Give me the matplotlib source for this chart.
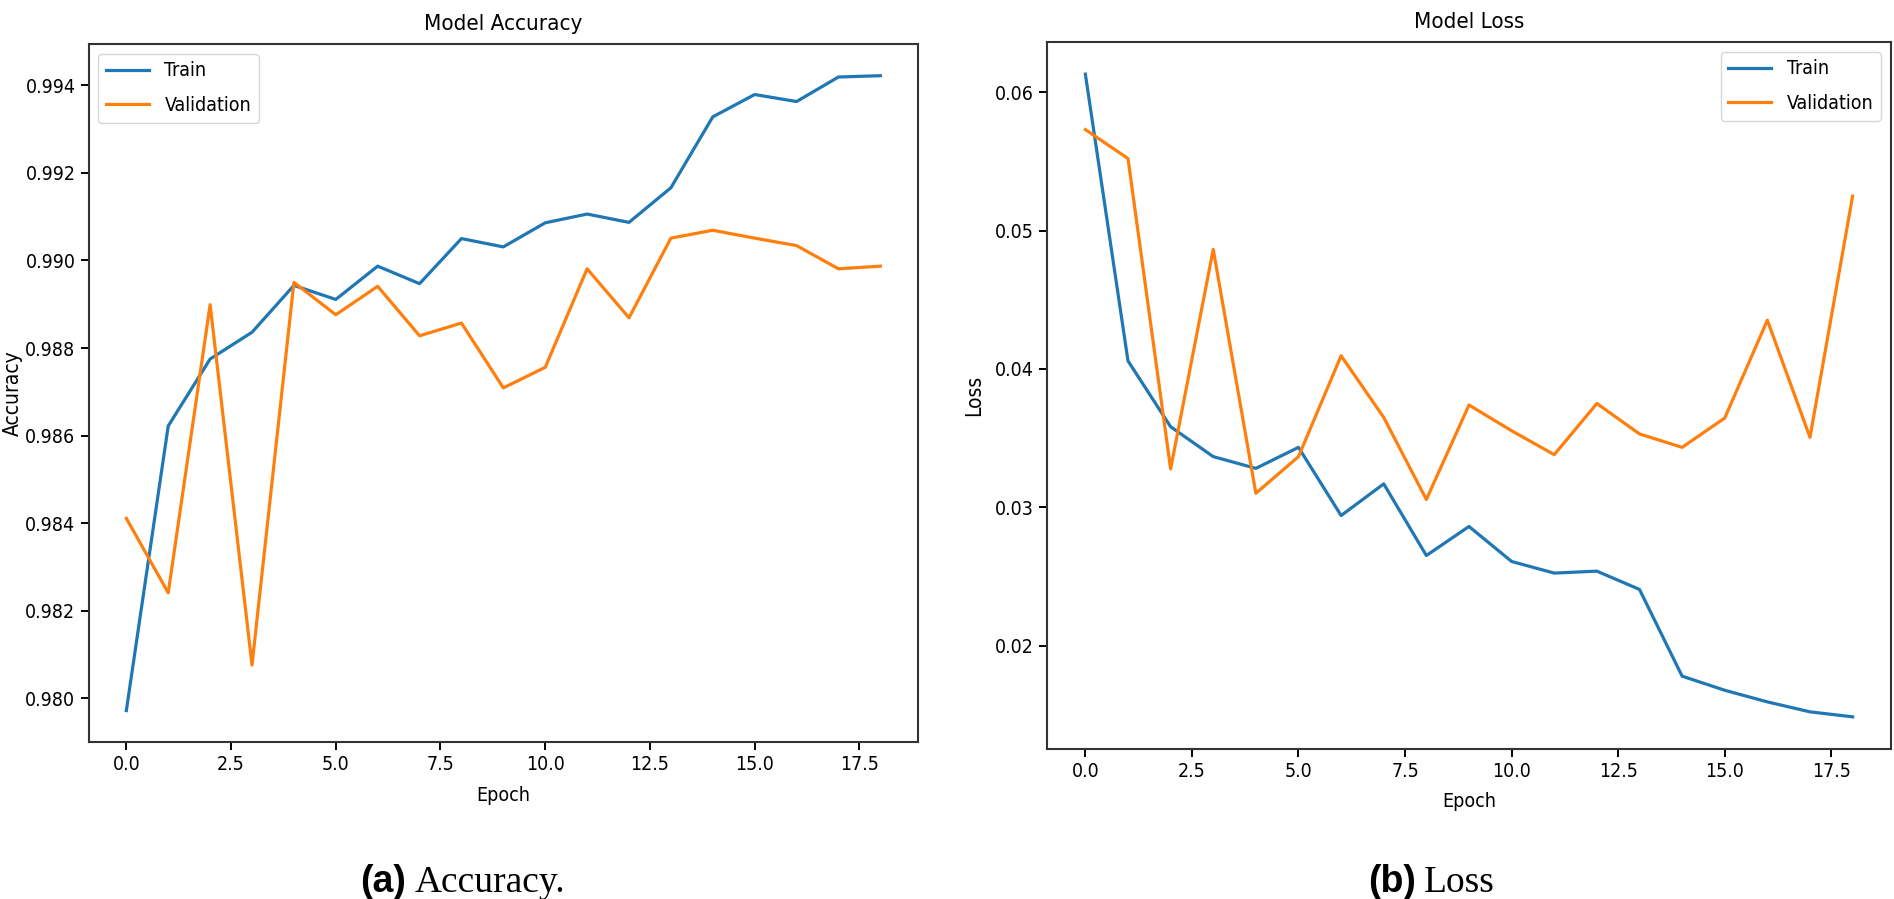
import matplotlib
matplotlib.use("Agg")
import matplotlib.pyplot as plt

epochs = list(range(19))

train_acc = [0.97972, 0.98622, 0.98775, 0.98836, 0.98943, 0.98911, 0.98987, 0.98947,
             0.99050, 0.99031, 0.99086, 0.99106, 0.99087, 0.99166, 0.99328, 0.99379,
             0.99363, 0.99419, 0.99422]
val_acc = [0.98411, 0.98241, 0.98899, 0.98076, 0.98950, 0.98876, 0.98941, 0.98828,
           0.98857, 0.98709, 0.98756, 0.98981, 0.98869, 0.99051, 0.99069, 0.99051,
           0.99034, 0.98981, 0.98987]

train_loss = [0.06131, 0.04058, 0.03582, 0.03366, 0.03281, 0.03433, 0.02940, 0.03169,
              0.02651, 0.02861, 0.02608, 0.02524, 0.02538, 0.02406, 0.01779, 0.01677,
              0.01593, 0.01521, 0.01485]
val_loss = [0.05730, 0.05521, 0.03277, 0.04864, 0.03101, 0.03366, 0.04095, 0.03649,
            0.03056, 0.03739, 0.03553, 0.03380, 0.03750, 0.03530, 0.03433, 0.03645,
            0.04352, 0.03505, 0.05249]

plt.rcParams['font.family'] = ['DejaVu Sans']
plt.rcParams['font.stretch'] = 'condensed'

fig = plt.figure(figsize=(18.94, 8.99), dpi=100)
ax1 = fig.add_axes([0.0468, 0.1743, 0.4379, 0.7768])
ax2 = fig.add_axes([0.5528, 0.1669, 0.4456, 0.7864])

panels = [
    (ax1, train_acc, val_acc, 'Model Accuracy', 'Accuracy', 'upper left', 2),
    (ax2, train_loss, val_loss, 'Model Loss', 'Loss', 'upper right', 8),
]
for ax, tr, va, title, ylab, loc, lp in panels:
    ax.plot(epochs, tr, color='#1f77b4', lw=2.3, label='Train')
    ax.plot(epochs, va, color='#ff7f0e', lw=2.3, label='Validation')
    ax.set_title(title, fontsize=16, pad=10)
    ax.set_xlabel('Epoch', fontsize=14, labelpad=8)
    ax.set_ylabel(ylab, fontsize=15, labelpad=lp)
    ax.tick_params(labelsize=14, length=6, width=1.4)
    for s in ax.spines.values():
        s.set_linewidth(1.5)
        s.set_color('#333333')
    ax.legend(loc=loc, fontsize=14, labelspacing=0.8, handlelength=2.2)

# captions under each panel
cap_y = 0.008
fig.text(360 / 1894, cap_y, '(a)', fontsize=27, fontweight='bold',
         family='Liberation Sans', va='baseline', ha='left')
fig.text(415 / 1894, cap_y, 'Accuracy.', fontsize=27,
         family='Liberation Serif', va='baseline', ha='left')
fig.text(1368 / 1894, cap_y, '(b)', fontsize=27, fontweight='bold',
         family='Liberation Sans', va='baseline', ha='left')
fig.text(1424 / 1894, cap_y, 'Loss', fontsize=27,
         family='Liberation Serif', va='baseline', ha='left')

fig.savefig('out.png', dpi=100)
